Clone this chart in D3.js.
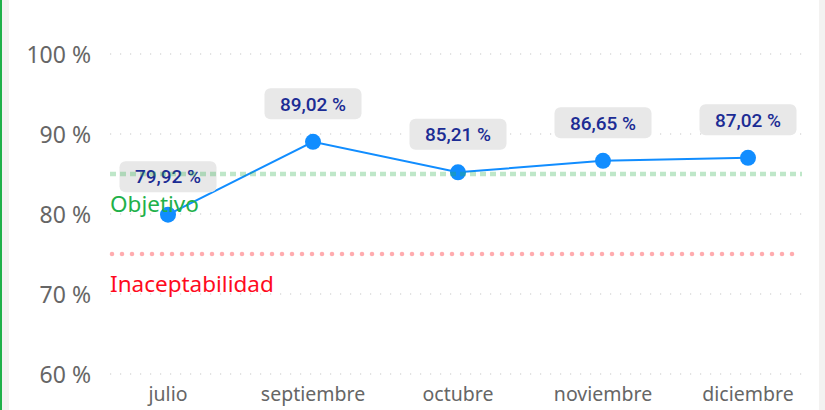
<!DOCTYPE html>
<html>
<head>
<meta charset="utf-8">
<script src="https://cdn.jsdelivr.net/npm/d3@7"></script>
<style>
  html, body { margin: 0; padding: 0; background: #fff; }
  svg { display: block; }
</style>
</head>
<body>
<div id="chart"></div>
<script>
const months = ['julio', 'septiembre', 'octubre', 'noviembre', 'diciembre'];
const values = [79.92, 89.02, 85.21, 86.65, 87.02];
const yTicks = [60, 70, 80, 90, 100];
const goalValue = 85;
const goalLabel = 'Objetivo';
const limitValue = 75;
const limitLabel = 'Inaceptabilidad';

const width = 825, height = 410;

const svg = d3.select('#chart').append('svg')
  .attr('width', width)
  .attr('height', height);

// frame: green accent on the left, grey strips on both sides
svg.append('rect').attr('x', 0).attr('y', 0).attr('width', 9).attr('height', height).attr('fill', '#f3f2f1');
svg.append('rect').attr('x', 0).attr('y', 0).attr('width', 2).attr('height', height).attr('fill', '#1fb14a');
svg.append('rect').attr('x', 819).attr('y', 0).attr('width', 6).attr('height', height).attr('fill', '#f3f2f1');

let x = d3.scaleBand()
  .domain(months)
  .range([95.5, 820.5]);

let y = d3.scaleLinear()
  .domain([60, 100])
  .range([374, 54]);

const gridLeft = 110, gridRight = 802;
const font = '"Segoe UI", "Noto Sans", "Open Sans", sans-serif';

// y axis labels + dotted gridlines
let yAxis = d3.axisLeft(y)
  .tickValues(yTicks)
  .tickFormat(d => d + ' %')
  .tickSize(0)
  .tickPadding(0);

let yg = svg.append('g')
  .attr('transform', 'translate(91,0)')
  .call(yAxis);
yg.select('.domain').remove();
yg.selectAll('text')
  .attr('fill', '#666')
  .style('font-family', font)
  .style('font-size', '23px')
  .attr('dy', '0.35em');

svg.append('g').selectAll('line')
  .data(yTicks)
  .enter().append('line')
  .attr('x1', gridLeft).attr('x2', gridRight)
  .attr('y1', d => y(d)).attr('y2', d => y(d))
  .attr('stroke', '#c8c8c8')
  .attr('stroke-width', 1.2)
  .attr('stroke-dasharray', '1.2 8.8');

// x axis labels
let xAxis = d3.axisBottom(x).tickSize(0).tickPadding(0);
let xg = svg.append('g')
  .attr('transform', 'translate(0,401)')
  .call(xAxis);
xg.select('.domain').remove();
xg.selectAll('text')
  .attr('fill', '#666')
  .attr('y', 0)
  .attr('dy', 0)
  .style('font-family', font)
  .style('font-size', '19.5px');

// lower limit: red dotted line
svg.append('line')
  .attr('x1', gridLeft + 2).attr('x2', gridRight)
  .attr('y1', y(limitValue)).attr('y2', y(limitValue))
  .attr('stroke', '#ff5a5f')
  .attr('stroke-opacity', 0.5)
  .attr('stroke-width', 4.5)
  .attr('stroke-linecap', 'round')
  .attr('stroke-dasharray', '0 10');

svg.append('text')
  .attr('x', gridLeft).attr('y', y(limitValue) + 38)
  .attr('fill', '#ff0a1e')
  .style('font-family', font)
  .style('font-size', '22.5px')
  .text(limitLabel);

const cx = d => x(d) + x.bandwidth() / 2;

// series line
let line = d3.line()
  .x((d, i) => cx(months[i]))
  .y(d => y(d));

svg.append('path')
  .datum(values)
  .attr('d', line)
  .attr('fill', 'none')
  .attr('stroke', '#118dff')
  .attr('stroke-width', 2);

svg.selectAll('.dot')
  .data(values)
  .enter().append('circle')
  .attr('class', 'dot')
  .attr('cx', (d, i) => cx(months[i]))
  .attr('cy', d => y(d))
  .attr('r', 8)
  .attr('fill', '#118dff');

// data labels
let labels = svg.selectAll('.lbl')
  .data(values)
  .enter().append('g')
  .attr('class', 'lbl')
  .attr('transform', (d, i) => `translate(${cx(months[i])},${y(d) - 38})`);

labels.append('rect')
  .attr('x', -48.5).attr('y', -15.5)
  .attr('width', 97).attr('height', 31)
  .attr('rx', 6)
  .attr('fill', '#e8e8e8');

labels.append('text')
  .attr('text-anchor', 'middle')
  .attr('dy', '0.36em')
  .attr('fill', '#1c2c94')
  .style('font-family', 'Roboto, sans-serif')
  .style('font-weight', 500)
  .style('font-size', '19px')
  .text(d => d3.format('.2f')(d).replace('.', ',') + ' %');

// goal: green dashed line drawn over the labels
svg.append('line')
  .attr('x1', gridLeft).attr('x2', gridRight)
  .attr('y1', y(goalValue)).attr('y2', y(goalValue))
  .attr('stroke', '#2bb04c')
  .attr('stroke-opacity', 0.3)
  .attr('stroke-width', 4.5)
  .attr('stroke-dasharray', '6 4');

svg.append('text')
  .attr('x', gridLeft).attr('y', y(goalValue) + 38)
  .attr('fill', '#1fb14a')
  .style('font-family', font)
  .style('font-size', '22.5px')
  .text(goalLabel);
</script>
</body>
</html>
